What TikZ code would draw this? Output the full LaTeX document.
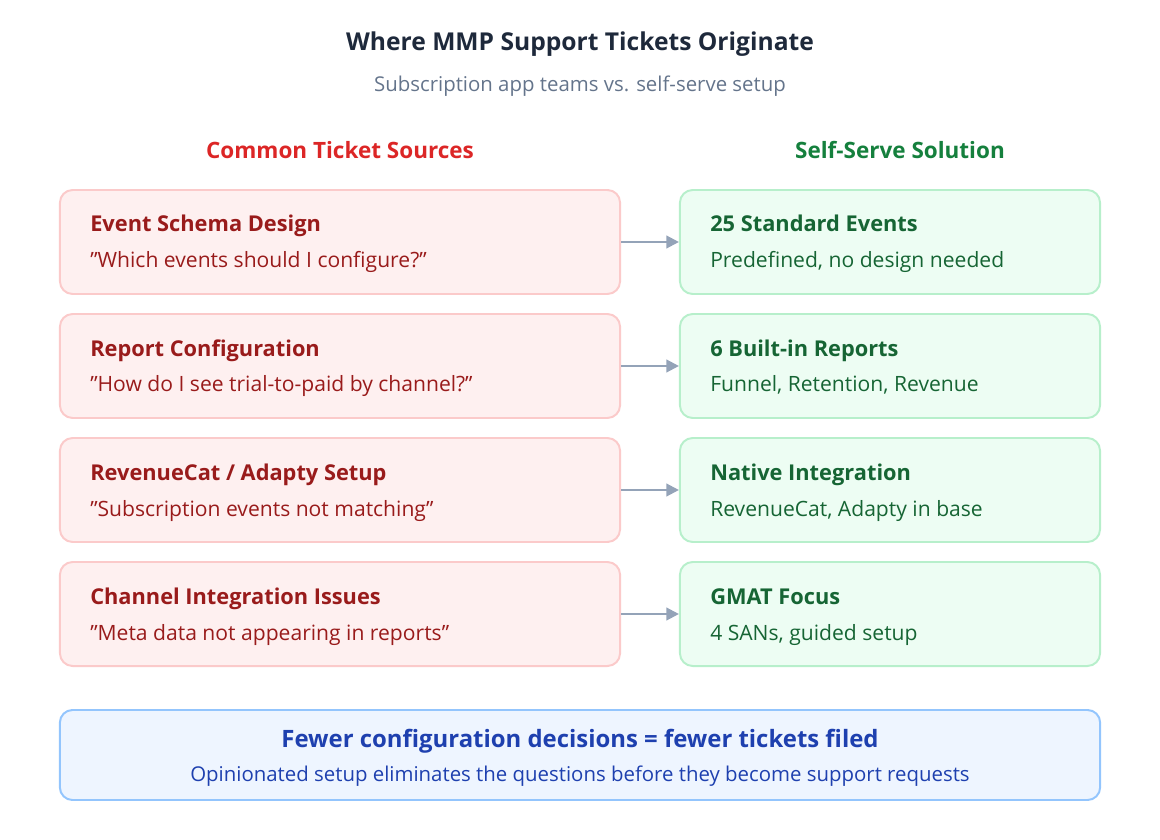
\documentclass[tikz,border=0pt]{standalone}
\usepackage{fontspec}
\setmainfont{Open Sans}[Ligatures=ResetAll]
\usetikzlibrary{arrows.meta, positioning}
\definecolor{ink}{HTML}{1E293B}
\definecolor{muted}{HTML}{64748B}
\definecolor{redhead}{HTML}{DC2626}
\definecolor{redtext}{HTML}{991B1B}
\definecolor{redfill}{HTML}{FEF0F0}
\definecolor{redline}{HTML}{FBCACA}
\definecolor{greenhead}{HTML}{15803D}
\definecolor{greentext}{HTML}{166534}
\definecolor{greenfill}{HTML}{EDFDF3}
\definecolor{greenline}{HTML}{B7EFCB}
\definecolor{bluefill}{HTML}{EEF5FF}
\definecolor{blueline}{HTML}{93C5FD}
\definecolor{bluetext}{HTML}{1E40AF}
\definecolor{arrowgray}{HTML}{94A3B8}
\newcommand{\qt}[1]{\symbol{34}#1\symbol{34}}

\begin{document}
\begin{tikzpicture}[
    x=0.025cm, y=-0.025cm,
    % Styles
    problem/.style={draw=redline, fill=redfill, line width=1.4pt, rounded corners=9pt,
      minimum width=14cm, minimum height=2.6cm},
    solution/.style={draw=greenline, fill=greenfill, line width=1.4pt, rounded corners=9pt,
      minimum width=10.5cm, minimum height=2.6cm},
    head/.style={font=\fontsize{15.5}{18}\selectfont\bfseries, anchor=base west, inner sep=0pt},
    body/.style={font=\fontsize{15}{18}\selectfont, anchor=base west, inner sep=0pt},
    link/.style={-{Triangle[length=9pt,width=9pt]}, draw=arrowgray, line width=1.6pt},
  ]
  \useasboundingbox (0,0) rectangle (1160,840);

  % 1) Title
  \node[font=\fontsize{17.5}{20}\selectfont\bfseries, text=ink] (title) at (580,44) {Where MMP Support Tickets Originate};
  \node[font=\fontsize{14.5}{17}\selectfont, text=muted] (subtitle) at (580,86) {Subscription app teams vs. self-serve setup};

  % 2) Column headers
  \node[font=\fontsize{16}{19}\selectfont\bfseries, text=redhead] (lefthead) at (340,150) {Common Ticket Sources};
  \node[font=\fontsize{16}{19}\selectfont\bfseries, text=greenhead] (righthead) at (900,150) {Self-Serve Solution};

  % 3) Rows
  \foreach \i/\ptitle/\pbody/\stitle/\sbody in {
      0/{Event Schema Design}/{\qt{Which events should I configure?}}/{25 Standard Events}/{Predefined, no design needed},
      1/{Report Configuration}/{\qt{How do I see trial-to-paid by channel?}}/{6 Built-in Reports}/{Funnel, Retention, Revenue},
      2/{RevenueCat / Adapty Setup}/{\qt{Subscription events not matching}}/{Native Integration}/{RevenueCat, Adapty in base},
      3/{Channel Integration Issues}/{\qt{Meta data not appearing in reports}}/{GMAT Focus}/{4 SANs, guided setup}} {
    \pgfmathsetmacro{\rowy}{242+124*\i}
    \node[problem] (prob\i) at (340,\rowy) {};
    \node[solution] (sol\i) at (890,\rowy) {};
    \node[head, text=redtext] at (90,\rowy-10) {\ptitle};
    \node[body, text=redtext] at (90,\rowy+26) {\pbody};
    \node[head, text=greentext] at (710,\rowy-10) {\stitle};
    \node[body, text=greentext] at (710,\rowy+26) {\sbody};
    \draw[link] (prob\i.east) -- (sol\i.west);
  }

  % 4) Summary
  \node[draw=blueline, fill=bluefill, line width=1.4pt, rounded corners=9pt,
    minimum width=26cm, minimum height=2.25cm] (summary) at (580,755) {};
  \node[font=\fontsize{17}{20}\selectfont\bfseries, text=bluetext] (sumhead) at (580,741) {Fewer configuration decisions = fewer tickets filed};
  \node[font=\fontsize{14.5}{17}\selectfont, text=bluetext] (sumbody) at (580,776) {Opinionated setup eliminates the questions before they become support requests};
\end{tikzpicture}
\end{document}
